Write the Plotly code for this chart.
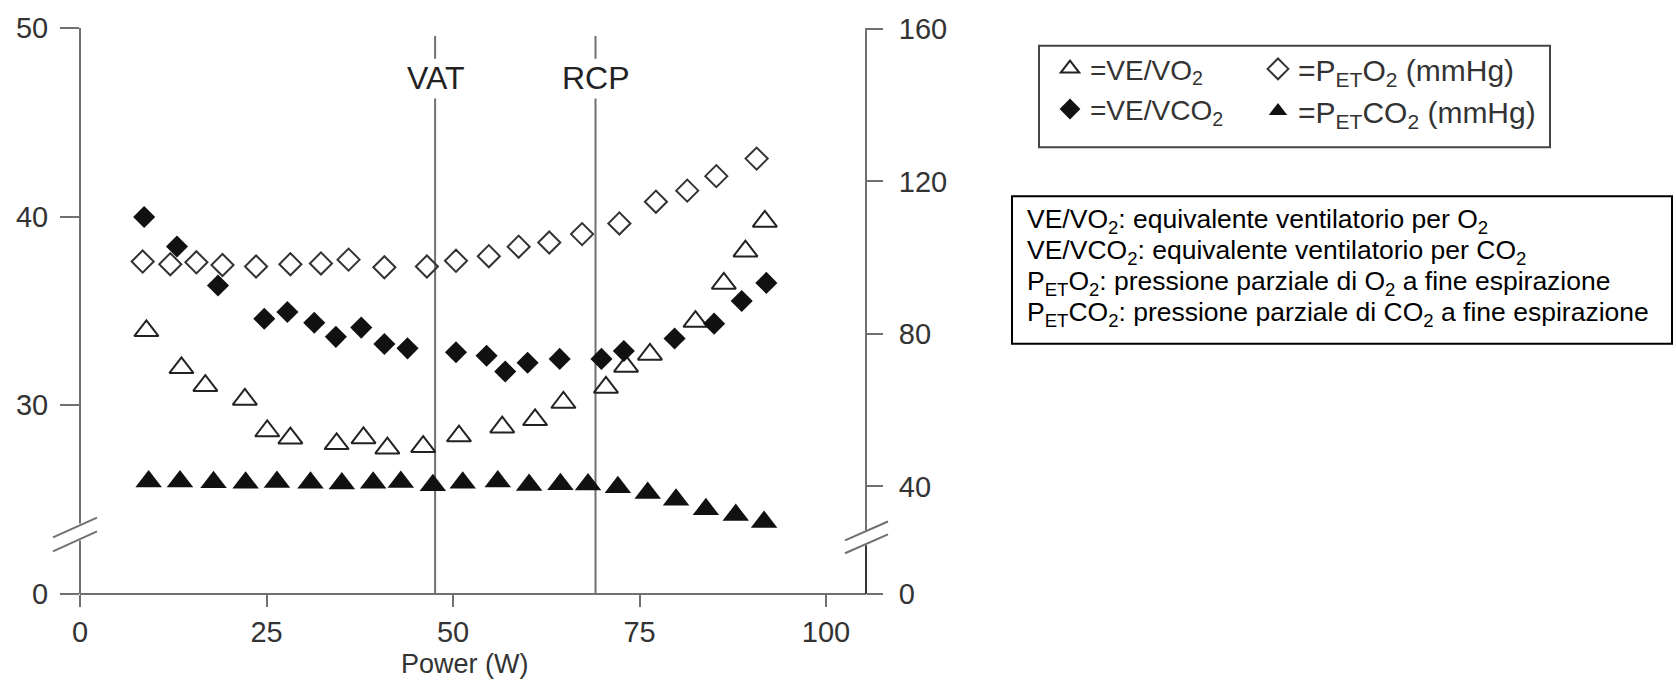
import plotly.graph_objects as go

# ---------------- data ----------------
power_ve_vo2 = [8.9, 13.6, 16.8, 22.1, 25.1, 28.2, 34.4, 38.0, 41.2, 46.0, 50.8,
                56.6, 61.0, 64.8, 70.5, 73.2, 76.4, 82.5, 86.3, 89.2, 91.8]
ve_vo2 = [33.95, 31.99, 31.04, 30.31, 28.64, 28.26, 27.96, 28.27, 27.73, 27.81, 28.37,
          28.84, 29.23, 30.15, 30.95, 32.06, 32.70, 34.44, 36.46, 38.17, 39.75]

power_ve_vco2 = [8.6, 13.0, 18.5, 24.7, 27.8, 31.4, 34.3, 37.7, 40.8, 43.9, 50.4,
                 54.5, 57.0, 60.0, 64.3, 69.9, 72.9, 79.7, 85.0, 88.7, 92.0]
ve_vco2 = [39.98, 38.42, 36.35, 34.59, 34.95, 34.38, 33.63, 34.12, 33.25, 33.02, 32.81,
           32.63, 31.79, 32.26, 32.46, 32.46, 32.88, 33.54, 34.33, 35.53, 36.49]

power_peto2 = [8.4, 12.1, 15.6, 19.1, 23.6, 28.2, 32.3, 36.0, 40.8, 46.5,
               50.4, 54.8, 58.8, 62.9, 67.3, 72.3, 77.2, 81.4, 85.3, 90.7]
peto2 = [99.0, 98.3, 98.8, 98.1, 97.7, 98.3, 98.5, 99.5, 97.5, 97.7,
         99.2, 100.4, 102.9, 104.0, 106.2, 109.0, 114.7, 117.6, 121.4, 126.0]

power_petco2 = [9.2, 13.4, 17.9, 22.2, 26.4, 30.9, 35.1, 39.3, 43.0, 47.3, 51.3,
                56.0, 60.2, 64.4, 68.1, 72.1, 76.1, 79.9, 83.9, 87.9, 91.7]
petco2 = [41.3, 41.3, 41.1, 41.0, 41.2, 41.0, 40.8, 41.0, 41.2, 40.3, 41.0,
          41.3, 40.4, 40.6, 40.5, 39.8, 38.3, 36.5, 34.0, 32.5, 30.7]

thresholds = {"VAT": 47.6, "RCP": 69.1}

x_ticks = [0, 25, 50, 75, 100]
left_ticks = [30, 40, 50]
right_ticks = [40, 80, 120, 160]
# broken axes: the lowest shown value is labelled "0"
left_range = [20.0, 50.0]
right_range = [11.8, 160.26]
x_range = [0, 105.36]

# ---------------- geometry helpers ----------------
W, H = 1676, 688
ML, MR, MT, MB = 80, 810, 24, 94
PW, PH = W - ML - MR, H - MT - MB


def px(x):
    return (x - ML) / PW


def py(y):
    return (H - MB - y) / PH


FONT = "Arial, Liberation Sans, sans-serif"
AX = "#707070"
INK = "#111111"

fig = go.Figure()

fig.add_trace(go.Scatter(
    x=power_ve_vo2, y=ve_vo2, mode="markers", name="=VE/VO<sub>2</sub>",
    legend="legend", legendgroup="a",
    marker=dict(symbol="triangle-up-open", size=21, color="#222",
                line=dict(width=2, color="#222"))))
fig.add_trace(go.Scatter(
    x=power_ve_vco2, y=ve_vco2, mode="markers", name="=VE/VCO<sub>2</sub>",
    legend="legend", legendgroup="b",
    marker=dict(symbol="diamond", size=17, color=INK)))
fig.add_trace(go.Scatter(
    x=power_peto2, y=peto2, mode="markers", yaxis="y2",
    name="=P<sub>ET</sub>O<sub>2</sub>\u00a0(mmHg)", legend="legend2", legendgroup="c",
    marker=dict(symbol="diamond-open", size=17, color="#333",
                line=dict(width=2, color="#333"))))
fig.add_trace(go.Scatter(
    x=power_petco2, y=petco2, mode="markers", yaxis="y2",
    name="=P<sub>ET</sub>CO<sub>2</sub>\u00a0(mmHg)", legend="legend2", legendgroup="d",
    marker=dict(symbol="triangle-up", size=23, color=INK)))

shapes = []


def seg(x0, y0, x1, y1, color=AX, width=2, xref="paper", yref="paper"):
    shapes.append(dict(type="line", x0=x0, y0=y0, x1=x1, y1=y1, xref=xref, yref=yref,
                       line=dict(color=color, width=width), layer="below"))


# x axis line
seg(px(ML), 0, px(ML + PW), 0)
# left axis with break
seg(0, 1, 0, py(523))
seg(0, py(540), 0, 0)
seg(px(53), py(537), px(97), py(517))
seg(px(53), py(551), px(97), py(531))
# right axis with break
seg(1, 1, 1, py(530))
seg(1, py(545), 1, 0, color="#333")
seg(px(845), py(540), px(888), py(521))
seg(px(845), py(553), px(888), py(534))

# threshold lines with a gap for the labels
annotations = []
for lab, xv in thresholds.items():
    seg(xv, 0, xv, py(95), xref="x")
    seg(xv, py(55), xv, py(32), xref="x")
    annotations.append(dict(x=xv, y=py(74), xref="x", yref="paper", text=lab,
                            showarrow=False, xanchor="center", yanchor="middle",
                            font=dict(family=FONT, size=32, color="#222")))

# legend frame
shapes.append(dict(type="rect", xref="paper", yref="paper",
                   x0=px(1039), x1=px(1550), y0=py(42), y1=py(144),
                   line=dict(color="#444", width=2), fillcolor="rgba(0,0,0,0)"))
# description frame
shapes.append(dict(type="rect", xref="paper", yref="paper",
                   x0=px(1012), x1=px(1672), y0=py(193.5), y1=py(342),
                   line=dict(color="#000", width=2), fillcolor="white"))

desc_lines = [
    "VE/VO<sub>2</sub>: equivalente ventilatorio per O<sub>2</sub>",
    "VE/VCO<sub>2</sub>: equivalente ventilatorio per CO<sub>2</sub>",
    "P<sub>ET</sub>O<sub>2</sub>: pressione parziale di O<sub>2</sub> a fine espirazione",
    "P<sub>ET</sub>CO<sub>2</sub>: pressione parziale di CO<sub>2</sub> a fine espirazione",
]
for i, t in enumerate(desc_lines):
    annotations.append(dict(x=px(1025), y=py(218 + i * 31.5), xref="paper", yref="paper",
                            text=t, showarrow=False, xanchor="left", yanchor="middle",
                            font=dict(family=FONT, size=26.5, color="#000")))

# x axis title
annotations.append(dict(x=px(465), y=py(664), xref="paper", yref="paper", text="Power (W)",
                        showarrow=False, xanchor="center", yanchor="middle",
                        font=dict(family=FONT, size=27, color="#333")))

tickfont = dict(family=FONT, size=29, color="#333")

fig.update_layout(
    width=W, height=H,
    margin=dict(l=ML, r=MR, t=MT, b=MB),
    paper_bgcolor="white", plot_bgcolor="white",
    shapes=shapes, annotations=annotations,
    xaxis=dict(range=x_range, tickvals=x_ticks, ticks="outside", ticklen=12, tickwidth=2,
               tickcolor=AX, showgrid=False, zeroline=False, showline=False,
               tickfont=tickfont, ticklabelstandoff=0),
    yaxis=dict(range=left_range, tickvals=[left_range[0]] + left_ticks,
               ticktext=["0"] + [str(v) for v in left_ticks],
               ticks="outside", ticklen=19, tickwidth=2, tickcolor=AX,
               showgrid=False, zeroline=False, showline=False, tickfont=tickfont,
               ticklabelstandoff=6),
    yaxis2=dict(range=right_range, overlaying="y", side="right",
                tickvals=[right_range[0]] + right_ticks,
                ticktext=["0"] + [str(v) for v in right_ticks],
                ticks="outside", ticklen=16, tickwidth=2, tickcolor=AX,
                showgrid=False, zeroline=False, showline=False, tickfont=tickfont,
                ticklabelstandoff=10),
    showlegend=True,
    legend=dict(x=px(1050), y=py(40), xanchor="left", yanchor="top",
                orientation="v", bgcolor="rgba(0,0,0,0)", borderwidth=0,
                font=dict(family=FONT, size=28, color="#333"), tracegroupgap=1,
                itemclick=False),
    legend2=dict(x=px(1258), y=py(39), xanchor="left", yanchor="top",
                 orientation="v", bgcolor="rgba(0,0,0,0)", borderwidth=0,
                 font=dict(family=FONT, size=30, color="#333"), tracegroupgap=0,
                 itemclick=False),
)

fig.write_html("out.html")
